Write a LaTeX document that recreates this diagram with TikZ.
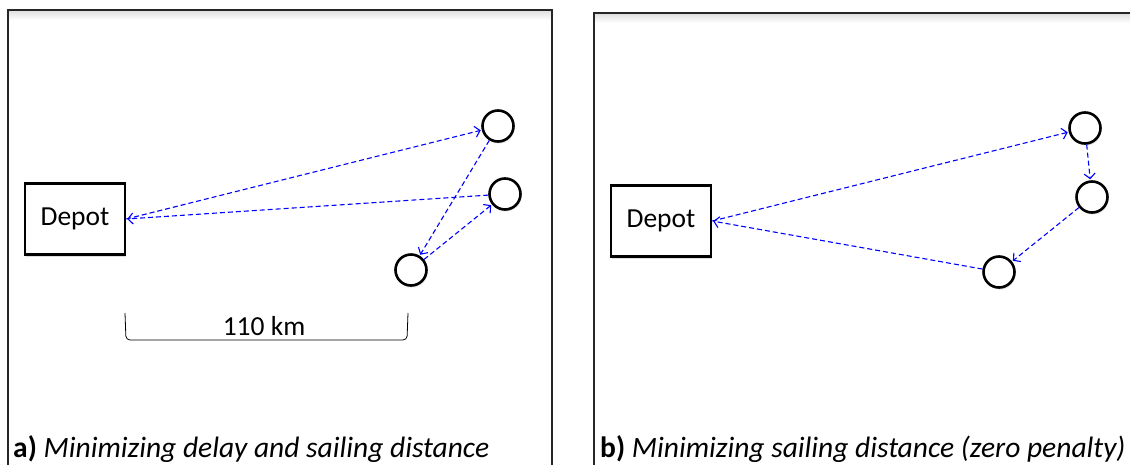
\documentclass[tikz,border=0pt]{standalone}
\usepackage{fontspec}
\setmainfont{Carlito}
\usepackage{tikz}
\usetikzlibrary{positioning,
				arrows.meta,
				shadows,
				calc}

\begin{document}
\begin{tikzpicture}[x=1pt,y=-1pt,
		frame/.style={draw=black!85, line width=1.4pt},
		depot/.style={draw, line width=2.5pt, fill=white, minimum width=100pt, minimum height=71pt,
			font=\fontsize{27.5}{32}\selectfont,
			drop shadow={shadow xshift=1pt, shadow yshift=-2pt, opacity=.25}},
		stop/.style={circle, draw, line width=2.6pt, fill=white, minimum size=31pt, inner sep=0pt,
			drop shadow={shadow xshift=1pt, shadow yshift=-2pt, opacity=.25}},
		route/.style={blue, line width=1.1pt, dash pattern=on 5pt off 3pt,
			-{Straight Barb[length=5pt,width=11pt,line width=1.1pt]}, shorten >=1pt},
		caption/.style={anchor=base west, inner sep=0pt, font=\fontsize{29.5}{34}\selectfont}]
	\useasboundingbox (0,0) rectangle (1130,464);
	% panel frames
	\shade[top color=black!12, bottom color=white] (9,11) rectangle (552,20);
	\shade[top color=black!12, bottom color=white] (595,14) rectangle (1130,23);
	\draw[frame] (8,480) -- (8,10) -- (552,10) -- (552,480);
	\draw[frame] (594,480) -- (594,13) -- (1140,13);

	% a) delay and distance
	\node[depot] (depA) at (75,219) {Depot};
	\node[stop] (vA1) at (498,126) {};
	\node[stop] (vA2) at (505,194) {};
	\node[stop] (vA3) at (411,270) {};
	\draw[route] (depA.east) -- (vA1);
	\draw[route] (vA1) -- (vA3);
	\draw[route] (vA3) -- (vA2);
	\draw[route] (vA2) -- (depA.east);

	% scale bar
	\coordinate (barL) at (125,313);
	\coordinate (barR) at (408,313);
	\draw[line width=.8pt, rounded corners=4pt] (barL) -- ($(barL)+(1,27)$) -- ($(barR)+(-1,27)$) -- (barR);
	\node (dist) at (264,326) {\fontsize{27.5}{32}\selectfont 110 km};

	% b) distance only
	\node[depot] (depB) at (661,221) {Depot};
	\node[stop] (vB1) at (1085,128) {};
	\node[stop] (vB2) at (1092,197) {};
	\node[stop] (vB3) at (999,272) {};
	\draw[route] (depB.east) -- (vB1);
	\draw[route] (vB1) -- (vB2);
	\draw[route] (vB2) -- (vB3);
	\draw[route] (vB3) -- (depB.east);

	% captions
	\node[caption] (capA) at (13,457) {\textbf{a)} \textit{Minimizing delay and sailing distance}};
	\node[caption] (capB) at (600,457) {\textbf{b)} \textit{Minimizing sailing distance (zero penalty)}};
\end{tikzpicture}
\end{document}
